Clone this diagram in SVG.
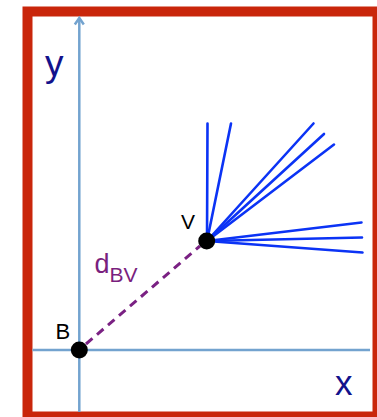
<svg xmlns="http://www.w3.org/2000/svg" width="377" height="417" viewBox="0 0 377 417">
  <style>
    .axis { stroke: #73a3cf; stroke-width: 2.5; fill: none; }
    .ray { stroke: #0b33f5; stroke-width: 2.6; stroke-linecap: round; }
    .dist { stroke: #7a2183; stroke-width: 3; stroke-dasharray: 8.5 6; fill: none; }
    .dot { fill: #000; }
    .lbl { font-family: "Liberation Sans", Arial, sans-serif; fill: #000; }
    .ax { font-family: "Liberation Sans", Arial, sans-serif; fill: #12128c; }
    .dl { font-family: "Liberation Sans", Arial, sans-serif; fill: #7a1f7e; }
  </style>
  <rect width="377" height="417" fill="#fff"/>
  <rect id="frame" x="27.5" y="11.5" width="350" height="405" fill="#fff" stroke="#c9260b" stroke-width="10"/>
  <g id="axes">
    <line class="axis" x1="79.3" y1="412" x2="79.3" y2="18"/>
    <polyline class="axis" points="74.8,24.5 79.3,18 83.8,24.5" stroke-linejoin="miter"/>
    <line class="axis" x1="32.5" y1="350" x2="370" y2="350"/>
    <text class="ax" x="45" y="76" font-size="37">y</text>
    <text class="ax" x="335" y="395" font-size="35">x</text>
  </g>
  <g id="connectors">
    <line class="dist" x1="86" y1="344" x2="200" y2="246"/>
    <line class="ray" x1="207" y1="241" x2="207.5" y2="123.5"/>
    <line class="ray" x1="207" y1="241" x2="231" y2="123.5"/>
    <line class="ray" x1="207" y1="241" x2="313.5" y2="123.5"/>
    <line class="ray" x1="207" y1="241" x2="324" y2="134"/>
    <line class="ray" x1="207" y1="241" x2="334" y2="144.5"/>
    <line class="ray" x1="207" y1="241" x2="361.5" y2="222.5"/>
    <line class="ray" x1="207" y1="241" x2="362" y2="237.5"/>
    <line class="ray" x1="207" y1="241" x2="362.5" y2="252.5"/>
  </g>
  <g id="label-dBV">
    <text class="dl" x="94.5" y="273" font-size="27">d<tspan font-size="21" dy="9">BV</tspan></text>
  </g>
  <g id="node-B">
    <circle class="dot" cx="79.3" cy="350" r="8.5"/>
    <text class="lbl" x="55.5" y="339" font-size="22">B</text>
  </g>
  <g id="node-V">
    <circle class="dot" cx="206.7" cy="241" r="8.5"/>
    <text class="lbl" x="181" y="229" font-size="21">V</text>
  </g>
</svg>
